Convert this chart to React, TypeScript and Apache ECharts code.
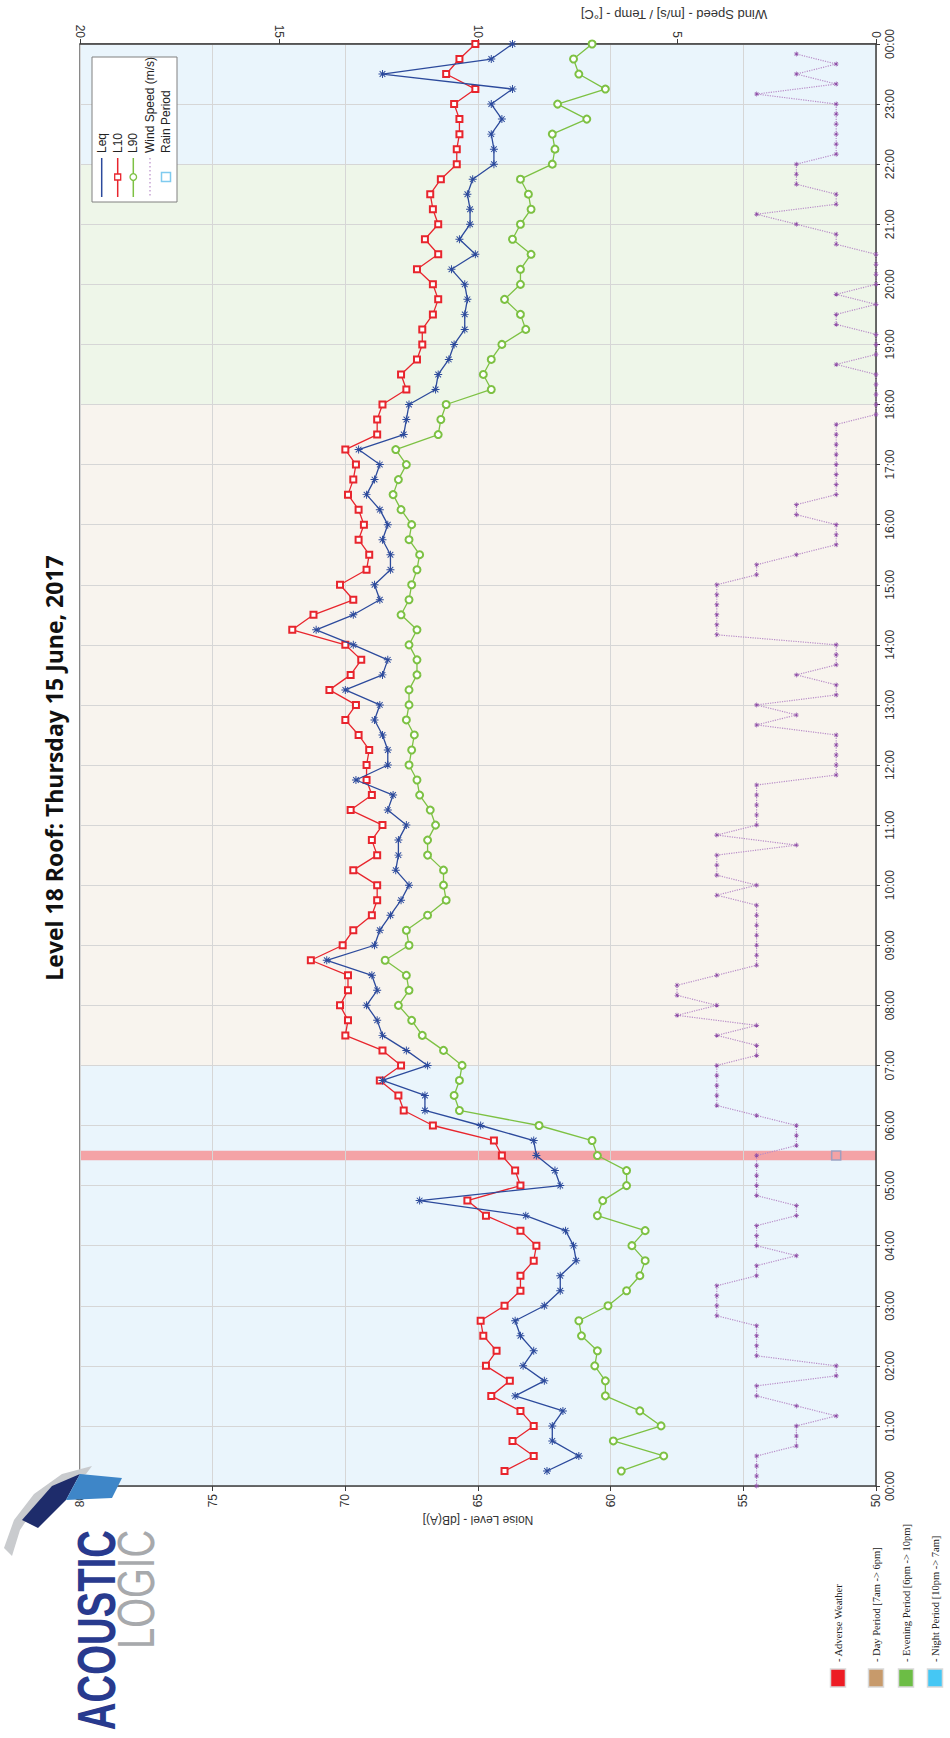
import React, { useEffect, useRef } from "react";
import * as echarts from "echarts";

// ---------- DATA ----------
const TIME_TICK_LABELS = [
  "00:00", "01:00", "02:00", "03:00", "04:00", "05:00", "06:00", "07:00", "08:00",
  "09:00", "10:00", "11:00", "12:00", "13:00", "14:00", "15:00", "16:00", "17:00",
  "18:00", "19:00", "20:00", "21:00", "22:00", "23:00", "00:00",
];

// 15-minute noise intervals, first at 00:15, last at 24:00
const NOISE_STEP_HOURS = 0.25;
const L10 = [
  64.0, 62.9, 63.7, 62.9, 63.4, 64.5, 63.8, 64.7, 64.3, 64.8, 64.9, 64.0,
  63.4, 63.4, 62.9, 62.8, 63.4, 64.7, 65.4, 63.4, 63.6, 64.1, 64.4, 66.7,
  67.8, 68.0, 68.7, 67.9, 68.6, 70.0, 69.9, 70.2, 69.9, 69.9, 71.3, 70.1,
  69.7, 69.0, 68.8, 68.8, 69.7, 68.8, 69.0, 68.6, 69.8, 69.0, 69.2, 69.2,
  69.1, 69.5, 70.0, 69.6, 70.6, 69.8, 69.4, 70.0, 72.0, 71.2, 69.7, 70.2,
  69.2, 69.1, 69.5, 69.3, 69.5, 69.9, 69.7, 69.6, 70.0, 68.8, 68.8, 68.6,
  67.7, 67.9, 67.3, 67.1, 67.1, 66.7, 66.5, 66.7, 67.3, 66.5, 67.0, 66.5,
  66.7, 66.8, 66.4, 65.8, 65.8, 65.7, 65.7, 65.9, 65.1, 66.2, 65.7, 65.1,
];
const LEQ = [
  62.4, 61.2, 62.2, 62.2, 61.8, 63.6, 62.5, 63.3, 62.9, 63.4, 63.6, 62.5,
  61.9, 61.9, 61.3, 61.4, 61.7, 63.2, 67.2, 61.9, 62.1, 62.8, 62.9, 64.9,
  67.0, 67.0, 68.6, 66.9, 67.7, 68.6, 68.8, 69.2, 68.8, 69.0, 70.7, 68.9,
  68.7, 68.3, 67.9, 67.6, 68.1, 68.0, 68.0, 67.7, 68.4, 68.2, 69.6, 68.4,
  68.4, 68.6, 68.9, 68.7, 70.0, 68.6, 68.4, 69.7, 71.1, 69.7, 68.7, 68.9,
  68.3, 68.3, 68.6, 68.4, 68.7, 69.2, 68.9, 68.7, 69.5, 67.8, 67.7, 67.6,
  66.6, 66.5, 66.1, 65.9, 65.5, 65.5, 65.4, 65.5, 66.0, 65.1, 65.7, 65.3,
  65.3, 65.4, 65.2, 64.4, 64.4, 64.5, 64.1, 64.5, 63.7, 68.6, 64.5, 63.7,
];
const L90 = [
  59.6, 58.0, 59.9, 58.1, 58.9, 60.2, 60.2, 60.6, 60.5, 61.1, 61.2, 60.1,
  59.4, 58.9, 58.7, 59.2, 58.7, 60.5, 60.3, 59.4, 59.4, 60.5, 60.7, 62.7,
  65.7, 65.9, 65.7, 65.6, 66.3, 67.1, 67.5, 68.0, 67.6, 67.7, 68.5, 67.6,
  67.7, 66.9, 66.2, 66.3, 66.3, 66.9, 66.9, 66.6, 66.8, 67.2, 67.3, 67.6,
  67.5, 67.4, 67.7, 67.6, 67.6, 67.3, 67.3, 67.6, 67.3, 67.9, 67.6, 67.5,
  67.3, 67.2, 67.6, 67.5, 67.9, 68.2, 68.0, 67.7, 68.1, 66.5, 66.4, 66.2,
  64.5, 64.8, 64.5, 64.1, 63.2, 63.4, 64.0, 63.4, 63.4, 63.0, 63.7, 63.4,
  63.0, 63.1, 63.4, 62.2, 62.1, 62.2, 60.9, 62.0, 60.2, 61.2, 61.4, 60.7,
];

// 10-minute wind readings, first at 00:00, last at 23:50
const WIND_STEP_HOURS = 1 / 6;
const WIND = [
  3, 3, 3, 3, 2, 2, 2, 1, 2, 3, 3, 1,
  1, 3, 3, 3, 3, 4, 4, 4, 4, 3, 3, 2,
  3, 3, 3, 2, 2, 3, 3, 3, 3, 3, 2, 2,
  2, 3, 4, 4, 4, 4, 4, 3, 3, 4, 3, 5,
  4, 5, 5, 4, 3, 3, 3, 3, 3, 3, 3, 4,
  3, 4, 4, 4, 2, 4, 3, 3, 3, 3, 3, 1,
  1, 1, 1, 1, 3, 2, 3, 1, 1, 2, 1, 1,
  1, 4, 4, 4, 4, 4, 4, 3, 3, 2, 1, 1,
  1, 2, 2, 1, 1, 1, 1, 1, 1, 1, 1, 0,
  0, 0, 0, 0, 1, 0, 0, 0, 1, 1, 0, 1,
  0, 0, 0, 0, 1, 1, 2, 3, 1, 1, 2, 2,
  2, 1, 1, 1, 1, 1, 1, 3, 1, 2, 1, 2,
];

const RAIN_POINT_TIME = [5.5];
const RAIN_POINT_VALUE = [1];
const RAIN_BAND = [5.42, 5.58];

const PERIOD_BANDS = [
  { from: 0, to: 7, color: "#EAF5FC" },
  { from: 7, to: 18, color: "#F8F4EE" },
  { from: 18, to: 22, color: "#EEF6E9" },
  { from: 22, to: 24, color: "#EAF5FC" },
];

const LEGEND_ITEMS = ["Leq", "L10", "L90", "Wind Speed (m/s)", "Rain Period"];
const PERIOD_LEGEND = [
  { label: "- Adverse Weather", color: "#ED1C24" },
  { label: "- Day Period [7am -> 6pm]", color: "#C79A6B" },
  { label: "- Evening Period [6pm -> 10pm]", color: "#6CBD45" },
  { label: "- Night Period [10pm -> 7am]", color: "#45C7F4" },
];

const TITLE = "Level 18 Roof: Thursday 15 June, 2017";
const NOISE_AXIS_NAME = "Noise Level - [dB(A)]";
const WIND_AXIS_NAME = "Wind Speed - [m/s] / Temp - [°C]";

// ---------- STYLE ----------
const C_LEQ = "#2C4A9C";
const C_L10 = "#E8252D";
const C_L90 = "#7DC143";
const C_WIND = "#8D4BA5";
const C_WIND_LINE = "#B88CC8";
const C_RAIN = "#7FCBEF";
const AXIS_C = "#3C3C3C";
const TXT_C = "#333333";
const SANS = "'Liberation Sans', Arial, sans-serif";

const ASTERISK =
  "path://M-0.6,-5H0.6V5H-0.6Z M-5,-0.6H5V0.6H-5Z M-3.96,-3.111L-3.111,-3.96L3.96,3.111L3.111,3.96Z M3.111,-3.96L3.96,-3.111L-3.111,3.96L-3.96,3.111Z";

const R90 = Math.PI / 2;

function asteriskGroup(cx: number, cy: number, r: number, color: string, w: number) {
  const children: any[] = [];
  for (let k = 0; k < 4; k++) {
    const a = (k * Math.PI) / 4;
    children.push({
      type: "line",
      shape: { x1: cx - r * Math.cos(a), y1: cy - r * Math.sin(a), x2: cx + r * Math.cos(a), y2: cy + r * Math.sin(a) },
      style: { stroke: color, lineWidth: w },
    });
  }
  return { type: "group", z: 101, children };
}

export default function App() {
  const ref = useRef<HTMLDivElement>(null);

  useEffect(() => {
    if (!ref.current) return;
    const chart = echarts.init(ref.current, undefined, { renderer: "svg" });

    const noiseData = (arr: number[]) => arr.map((v, i) => [v, (i + 1) * NOISE_STEP_HOURS]);
    const windData = WIND.map((v, i) => [v, i * WIND_STEP_HOURS]);

    const GL = 80, GT = 44, GW = 796, GH = 1442;

    // legend box (inside plot, top-left)
    const legX = [101.7, 117.7, 133.3, 150, 166];
    const legendGraphics: any[] = [
      { type: "rect", z: 100, shape: { x: 92, y: 57, width: 85, height: 145 }, style: { fill: "#ffffff", stroke: "#808080", lineWidth: 1 } },
    ];
    LEGEND_ITEMS.forEach((label, i) => {
      const cx = legX[i];
      legendGraphics.push({
        type: "text", z: 101, x: cx, y: 153, rotation: R90,
        style: { text: label, fill: "#222", fontSize: 12, fontFamily: SANS, align: "left", verticalAlign: "middle" },
      });
    });
    legendGraphics.push({ type: "line", z: 101, shape: { x1: legX[0], y1: 158, x2: legX[0], y2: 197 }, style: { stroke: C_LEQ, lineWidth: 1.5 } });
    legendGraphics.push(asteriskGroup(legX[0], 177, 3.8, C_LEQ, 1.3));
    legendGraphics.push({ type: "line", z: 101, shape: { x1: legX[1], y1: 158, x2: legX[1], y2: 197 }, style: { stroke: C_L10, lineWidth: 1.5 } });
    legendGraphics.push({ type: "rect", z: 102, shape: { x: legX[1] - 3, y: 174, width: 6, height: 6 }, style: { fill: "#fff", stroke: C_L10, lineWidth: 1.3 } });
    legendGraphics.push({ type: "line", z: 101, shape: { x1: legX[2], y1: 158, x2: legX[2], y2: 197 }, style: { stroke: C_L90, lineWidth: 1.5 } });
    legendGraphics.push({ type: "circle", z: 102, shape: { cx: legX[2], cy: 177, r: 3.3 }, style: { fill: "#fff", stroke: C_L90, lineWidth: 1.3 } });
    legendGraphics.push({ type: "line", z: 101, shape: { x1: legX[3], y1: 158, x2: legX[3], y2: 197 }, style: { stroke: C_WIND_LINE, lineWidth: 1.2, lineDash: [1.5, 2.5] } });
    legendGraphics.push(asteriskGroup(legX[3], 177, 2.4, C_WIND, 1.2));
    legendGraphics.push({ type: "rect", z: 102, shape: { x: legX[4] - 4.5, y: 172.5, width: 9, height: 9 }, style: { fill: "#fff", stroke: C_RAIN, lineWidth: 1.5 } });

    // period legend at bottom
    const perX = [838, 876, 906, 935];
    const periodGraphics: any[] = [];
    PERIOD_LEGEND.forEach((p, i) => {
      const cx = perX[i];
      periodGraphics.push({ type: "rect", z: 100, shape: { x: cx - 7.5, y: 1669, width: 15, height: 18 }, style: { fill: p.color, stroke: "#d9d9d9", lineWidth: 1.5 } });
      periodGraphics.push({
        type: "text", z: 100, x: cx, y: 1662, rotation: R90,
        style: { text: p.label, fill: "#222", fontSize: 10.5, fontFamily: "'Liberation Serif', 'DejaVu Serif', serif", align: "left", verticalAlign: "middle" },
      });
    });

    // logo
    const logoGraphics: any[] = [
      { type: "polygon", z: 100, shape: { points: [[4, 1548], [14, 1520], [34, 1494], [62, 1474], [92, 1466], [86, 1474], [58, 1486], [36, 1506], [20, 1530], [12, 1556]] }, style: { fill: "#C9CBCE" } },
      { type: "polygon", z: 101, shape: { points: [[22, 1520], [52, 1486], [80, 1474], [66, 1500], [38, 1528]] }, style: { fill: "#1E2C6B" } },
      { type: "polygon", z: 101, shape: { points: [[66, 1500], [80, 1474], [122, 1478], [112, 1498]] }, style: { fill: "#3E86C8" } },
      {
        type: "text", z: 101, x: 97, y: 1530, rotation: R90, scaleX: 0.71,
        style: { text: "ACOUSTIC", fill: "#283A8E", fontSize: 54, fontWeight: "bold", fontFamily: SANS, align: "right", verticalAlign: "middle" },
      },
      {
        type: "text", z: 101, x: 136, y: 1530, rotation: R90, scaleX: 0.735,
        style: { text: "LOGIC", fill: "#A7A9AC", fontSize: 52, fontFamily: SANS, align: "right", verticalAlign: "middle" },
      },
    ];

    const option: any = {
      animation: false,
      backgroundColor: "#ffffff",
      grid: { left: GL, top: GT, width: GW, height: GH, show: true, borderColor: AXIS_C, borderWidth: 1.2, backgroundColor: "transparent" },
      xAxis: [
        {
          type: "value", min: 50, max: 80, interval: 5, inverse: true, position: "bottom", z: 2,
          axisLine: { show: true, lineStyle: { color: AXIS_C, width: 1.5 } },
          axisTick: { show: true, length: 5, lineStyle: { color: AXIS_C } },
          axisLabel: { rotate: 90, fontSize: 12, color: TXT_C, fontFamily: SANS, margin: 8 },
          splitLine: { show: true, lineStyle: { color: "#D6D6D6", width: 1 } },
        },
        {
          type: "value", min: 0, max: 20, interval: 5, inverse: true, position: "top", z: 2,
          axisLine: { show: true, lineStyle: { color: AXIS_C, width: 1.5 } },
          axisTick: { show: true, length: 5, lineStyle: { color: AXIS_C } },
          axisLabel: { rotate: 90, fontSize: 12, color: TXT_C, fontFamily: SANS, margin: 6 },
          splitLine: { show: false },
        },
      ],
      yAxis: [
        {
          type: "value", min: 0, max: 24, interval: 1, position: "right", z: 2,
          axisLine: { show: true, lineStyle: { color: AXIS_C, width: 1.5 } },
          axisTick: { show: true, length: 4, lineStyle: { color: AXIS_C } },
          axisLabel: {
            rotate: 90, fontSize: 12, color: TXT_C, fontFamily: SANS, margin: 8,
            formatter: (v: number) => TIME_TICK_LABELS[Math.round(v)] ?? "",
          },
          splitLine: { show: true, lineStyle: { color: "#D6D6D6", width: 1 } },
        },
      ],
      graphic: [
        {
          type: "text", x: 54, y: 768, rotation: R90, z: 100,
          style: { text: TITLE, fill: "#111", fontSize: 23, fontWeight: "bold", fontFamily: "'Open Sans', 'Liberation Sans', sans-serif", align: "center", verticalAlign: "middle" },
        },
        {
          type: "text", x: 478, y: 1520, rotation: Math.PI, z: 100,
          style: { text: NOISE_AXIS_NAME, fill: TXT_C, fontSize: 12, fontFamily: SANS, align: "center", verticalAlign: "middle" },
        },
        {
          type: "text", x: 674, y: 14, rotation: Math.PI, z: 100,
          style: { text: WIND_AXIS_NAME, fill: TXT_C, fontSize: 13, fontFamily: SANS, align: "center", verticalAlign: "middle" },
        },
        ...legendGraphics,
        ...periodGraphics,
        ...logoGraphics,
      ],
      series: [
        {
          type: "line", name: "bands", xAxisIndex: 0, yAxisIndex: 0, z: 1, silent: true,
          data: [[50, 0]], symbol: "none", lineStyle: { opacity: 0 },
          markArea: {
            silent: true,
            data: [
              ...PERIOD_BANDS.map((b) => [{ yAxis: b.from, itemStyle: { color: b.color } }, { yAxis: b.to }]),
              [{ yAxis: RAIN_BAND[0], itemStyle: { color: "#F4A3A6" } }, { yAxis: RAIN_BAND[1] }],
            ],
          },
        },
        {
          type: "line", name: "Wind Speed (m/s)", xAxisIndex: 1, yAxisIndex: 0, z: 3,
          data: windData, symbol: ASTERISK, symbolSize: 5,
          itemStyle: { color: C_WIND }, lineStyle: { color: C_WIND_LINE, width: 1.2, type: "dotted" },
        },
        {
          type: "line", name: "L90", xAxisIndex: 0, yAxisIndex: 0, z: 4,
          data: noiseData(L90), symbol: "emptyCircle", symbolSize: 7,
          itemStyle: { color: C_L90, borderWidth: 1.2 }, lineStyle: { color: C_L90, width: 1.3 },
        },
        {
          type: "line", name: "L10", xAxisIndex: 0, yAxisIndex: 0, z: 5,
          data: noiseData(L10), symbol: "emptyRect", symbolSize: 6,
          itemStyle: { color: C_L10, borderWidth: 1.2 }, lineStyle: { color: C_L10, width: 1.3 },
        },
        {
          type: "line", name: "Leq", xAxisIndex: 0, yAxisIndex: 0, z: 6,
          data: noiseData(LEQ), symbol: ASTERISK, symbolSize: 8,
          itemStyle: { color: C_LEQ }, lineStyle: { color: C_LEQ, width: 1.3 },
        },
        {
          type: "scatter", name: "Rain Period", xAxisIndex: 1, yAxisIndex: 0, z: 7,
          data: RAIN_POINT_VALUE.map((v, i) => [v, RAIN_POINT_TIME[i]]), symbol: "rect", symbolSize: 9,
          itemStyle: { color: "rgba(0,0,0,0)", borderColor: "#8A9CC4", borderWidth: 1.5 },
        },
      ],
    };

    chart.setOption(option);
    return () => chart.dispose();
  }, []);

  return <div ref={ref} style={{ position: "absolute", left: 0, top: 0, width: 950, height: 1738 }} />;
}
